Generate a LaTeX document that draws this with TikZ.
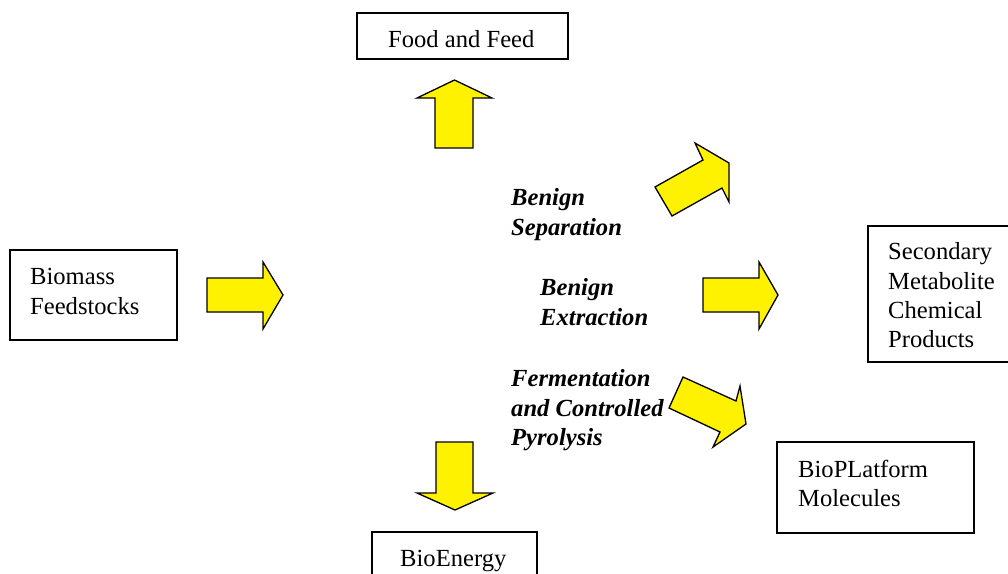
\documentclass[tikz,border=0pt]{standalone}
\usepackage{fontspec}
\setmainfont{Liberation Serif}
\tikzset{
  prod/.style={draw=black,line width=1.3pt,rectangle,inner sep=0pt},
  txt/.style={anchor=north west,inner sep=0pt,align=left,
    font=\fontsize{24.6pt}{29.3pt}\selectfont,execute at begin node=\strut},
  proc/.style={txt,font=\fontsize{24.6pt}{29.3pt}\selectfont\bfseries\itshape},
  fat/.style={fill=yellow,draw=black,line width=1.3pt,line join=miter}
}
\begin{document}
\begin{tikzpicture}[x=1pt,y=-1pt]
      \useasboundingbox (0,0) rectangle (1008,573);
      \begin{scope}[every node/.style={prod}]
        \node[minimum width=211pt,minimum height=46pt] (food)      at (462.5,36)  {};
        \node[minimum width=167pt,minimum height=90pt] (biomass)   at (93.5,295)  {};
        \node[minimum width=152pt,minimum height=136pt](secondary) at (944,294)   {};
        \node[minimum width=197pt,minimum height=91pt] (platform)  at (875.5,487.5) {};
        \node[minimum width=165pt,minimum height=68pt] (energy)    at (454.5,566) {};
      \end{scope}
      \begin{scope}[every node/.style={txt}]
        \node (foodtxt)      at (388,26.5)  {Food and Feed};
        \node (biomasstxt)   at (30,268.5)  {Biomass\\Feedstocks};
        \node (secondarytxt) at (888,242.5) {Secondary\\Metabolite\\Chemical\\Products};
        \node (platformtxt)  at (798,459.5) {BioPLatform\\Molecules};
        \node (energytxt)    at (400,545.5) {BioEnergy};
      \end{scope}
      \begin{scope}[every node/.style={proc}]
        \node (separation)   at (511,188.5) {Benign\\Separation};
        \node (extraction)   at (540,278.5) {Benign\\Extraction};
        \node (fermentation) at (511,369.5) {Fermentation\\and Controlled\\Pyrolysis};
      \end{scope}
      \begin{scope}[every path/.style={fat}]
        \path (207,278) -- (263,278) -- (263,262) -- (283,295) -- (263,329) -- (263,312) -- (207,312) -- cycle;
        \path (703,278) -- (759,278) -- (759,262) -- (778,295) -- (759,329) -- (759,312) -- (703,312) -- cycle;
        \path (435,148) -- (435,98) -- (417,98) -- (454.5,80) -- (492,98) -- (473,98) -- (473,148) -- cycle;
        \path (436,442) -- (473,442) -- (473,493) -- (493,493) -- (455,510) -- (417,493) -- (436,493) -- cycle;
        \path (655,187) -- (703,160) -- (695,143) -- (729,163) -- (729,202) -- (722,188) -- (672,216) -- cycle;
        \path (683,377) -- (736,401) -- (740,386) -- (746,424) -- (713,447) -- (720,432) -- (669,408) -- cycle;
      \end{scope}
    \end{tikzpicture}
\end{document}
